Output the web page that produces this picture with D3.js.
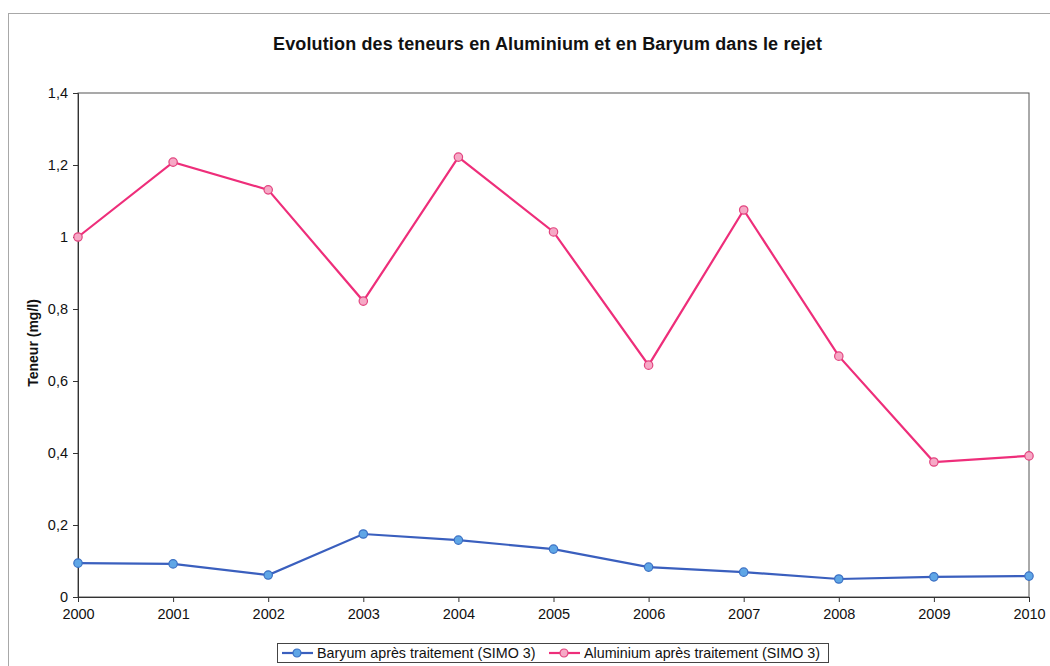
<!DOCTYPE html>
<html>
<head>
<meta charset="utf-8">
<script src="https://cdn.jsdelivr.net/npm/d3@7"></script>
<style>
  html, body { margin: 0; padding: 0; background: #fff; }
  svg { display: block; font-family: "Liberation Sans", Arial, sans-serif; }
</style>
</head>
<body>
<svg id="chart" width="1050" height="666"></svg>
<script>
// Years on the x axis
const years = [2000, 2001, 2002, 2003, 2004, 2005, 2006, 2007, 2008, 2009, 2010];
// Barium after treatment (mg/l)
const baryum = [0.094, 0.092, 0.061, 0.175, 0.158, 0.133, 0.083, 0.069, 0.050, 0.056, 0.058];
// Aluminium after treatment (mg/l)
const aluminium = [1.0, 1.208, 1.131, 0.822, 1.222, 1.014, 0.644, 1.075, 0.669, 0.375, 0.392];
const yTicks = [0, 0.2, 0.4, 0.6, 0.8, 1.0, 1.2, 1.4];
const seriesNames = ["Baryum après traitement (SIMO 3)", "Aluminium après traitement (SIMO 3)"];

const svg = d3.select("#chart");
const plot = { left: 78, right: 1029, top: 93, bottom: 597 };

// outer chart frame
svg.append("rect").attr("x", 8.5).attr("y", 13.5).attr("width", 1050).attr("height", 700)
  .attr("fill", "none").attr("stroke", "#a8a8a8").attr("stroke-width", 1);

const x = d3.scaleLinear().domain([2000, 2010]).range([plot.left, plot.right]);
const y = d3.scaleLinear().domain([0, 1.4]).range([plot.bottom, plot.top]);
const fmt = v => d3.format(".1f")(v).replace(/\.0$/, "").replace(".", ",");

// plot frame
svg.append("rect").attr("x", plot.left).attr("y", plot.top)
  .attr("width", plot.right - plot.left).attr("height", plot.bottom - plot.top)
  .attr("fill", "none").attr("stroke", "#555").attr("stroke-width", 1);

const yAxis = svg.append("g").attr("transform", `translate(${plot.left},0)`)
  .call(d3.axisLeft(y).tickValues(yTicks).tickFormat(fmt).tickSize(5).tickPadding(5));
const xAxis = svg.append("g").attr("transform", `translate(0,${plot.bottom})`)
  .call(d3.axisBottom(x).tickValues(years).tickFormat(d3.format("d")).tickSize(5).tickPadding(7));
[yAxis, xAxis].forEach(g => {
  g.select(".domain").attr("stroke", "#333");
  g.selectAll(".tick line").attr("stroke", "#333");
  g.selectAll("text").attr("font-size", 14.5).attr("fill", "#111")
    .attr("font-family", "'Liberation Sans', Arial, sans-serif");
});

// title
svg.append("text").attr("x", 273).attr("y", 50)
  .attr("textLength", 549).attr("lengthAdjust", "spacing")
  .attr("font-size", 18).attr("font-weight", "bold").attr("fill", "#111")
  .text("Evolution des teneurs en Aluminium et en Baryum dans le rejet");

// y axis label
svg.append("text").attr("transform", `translate(38,${(plot.top + plot.bottom) / 2 - 2}) rotate(-90)`)
  .attr("text-anchor", "middle").attr("font-size", 14).attr("font-weight", "bold").attr("fill", "#111")
  .text("Teneur (mg/l)");

const styles = [
  { data: baryum, line: "#3a5fbe", fill: "#5fa6e6", stroke: "#3a70c4" },
  { data: aluminium, line: "#ee2e7a", fill: "#f6a9c6", stroke: "#e2447f" }
];

const line = d3.line().x((d, i) => x(years[i])).y(d => y(d));
styles.forEach(s => {
  svg.append("path").datum(s.data).attr("d", line).attr("fill", "none")
    .attr("stroke", s.line).attr("stroke-width", 2.2);
  svg.selectAll(null).data(s.data).enter().append("circle")
    .attr("cx", (d, i) => x(years[i])).attr("cy", d => y(d)).attr("r", 4.2)
    .attr("fill", s.fill).attr("stroke", s.stroke).attr("stroke-width", 1.2);
});

// legend
const lg = svg.append("g");
lg.append("rect").attr("x", 277.5).attr("y", 643.5).attr("width", 551).attr("height", 19)
  .attr("fill", "#fff").attr("stroke", "#444");
const legendX = [282, 549];
styles.forEach((s, i) => {
  const g = lg.append("g").attr("transform", `translate(${legendX[i]},653)`);
  g.append("line").attr("x1", 0).attr("x2", 31).attr("stroke", s.line).attr("stroke-width", 2.2);
  g.append("circle").attr("cx", 15).attr("r", 4).attr("fill", s.fill).attr("stroke", s.stroke).attr("stroke-width", 1.2);
  g.append("text").attr("x", 35).attr("y", 5).attr("font-size", 14.3).attr("fill", "#111").text(seriesNames[i]);
});
</script>
</body>
</html>
